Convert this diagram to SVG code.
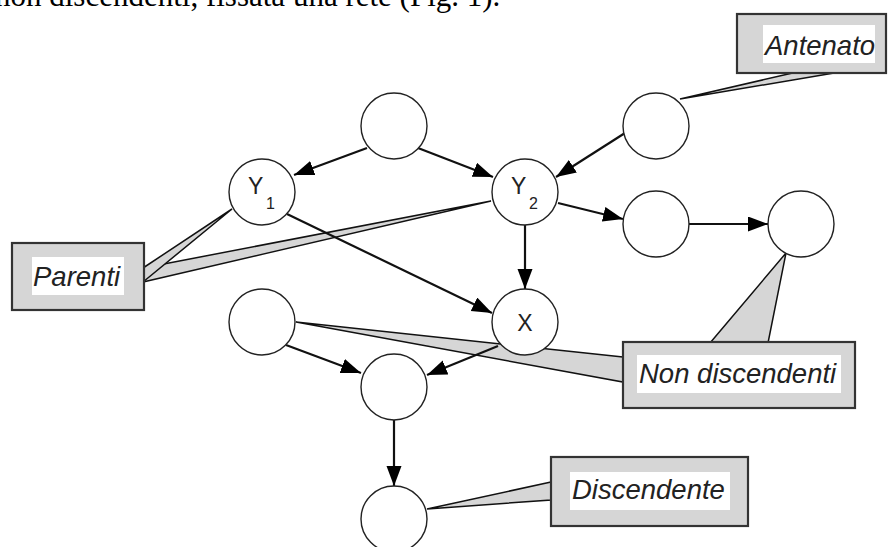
<svg xmlns="http://www.w3.org/2000/svg" width="894" height="547" viewBox="0 0 894 547">
<defs>
<marker id="ah" markerUnits="userSpaceOnUse" markerWidth="22" markerHeight="16" refX="20" refY="7.5" orient="auto">
<path d="M0,0 L20,7.5 L0,15 z" fill="#000"/>
</marker>
</defs>
<style>
.node{fill:#fff;stroke:#222;stroke-width:1.4}
.edge{stroke:#111;stroke-width:2.2;fill:none;marker-end:url(#ah)}
.ptr{fill:#d6d6d6;stroke:#111;stroke-width:1.5;stroke-linejoin:miter}
.box{fill:#d6d6d6;stroke:#333;stroke-width:2.2}
.tbg{fill:#fff}
.ct{font-family:"Liberation Sans",Arial,sans-serif;font-style:italic;font-size:27.5px;fill:#222}
.nl{font-family:"Liberation Sans",Arial,sans-serif;font-size:23px;fill:#222}
.sub{font-family:"Liberation Sans",Arial,sans-serif;font-size:16px;fill:#222}
</style>
<rect width="894" height="547" fill="#fff"/>
<text x="-5" y="6" font-family="Liberation Serif,serif" font-size="31" fill="#000">non discendenti, fissata una rete (Fig. 1).</text>

<g id="callout-parenti">
<polygon class="ptr" points="143,268 491,201 143,282"/>
<polygon class="ptr" points="143,268 232,209 143,282"/>
<rect class="box" x="12" y="243" width="132" height="67"/>
<rect class="tbg" x="32" y="257" width="92" height="38"/>
<text class="ct" x="33" y="286">Parenti</text>
</g>
<g id="callout-nondiscendenti">
<polygon class="ptr" points="623,357 296,322 623,382"/>
<polygon class="ptr" points="710,343 786,253 768,343"/>
<rect class="box" x="623" y="342" width="232" height="66"/>
<rect class="tbg" x="637" y="355" width="204" height="38"/>
<text class="ct" x="639" y="383">Non discendenti</text>
</g>
<g id="callout-antenato">
<polygon class="ptr" points="797,72 680,99 840,72"/>
<rect class="box" x="737" y="14" width="149" height="59"/>
<rect class="tbg" x="763" y="25" width="112" height="38"/>
<text class="ct" x="765" y="55">Antenato</text>
</g>
<g id="callout-discendente">
<polygon class="ptr" points="551,482 427,509 551,500"/>
<rect class="box" x="551" y="457" width="197" height="69"/>
<rect class="tbg" x="570" y="472" width="160" height="38"/>
<text class="ct" x="572" y="499">Discendente</text>
</g>

<g id="connectors">
<line class="edge" x1="367" y1="148" x2="294" y2="175"/>
<line class="edge" x1="418" y1="148" x2="493" y2="177"/>
<line class="edge" x1="625" y1="133" x2="556" y2="177"/>
<line class="edge" x1="558" y1="203" x2="623" y2="219"/>
<line class="edge" x1="689" y1="224" x2="768" y2="224"/>
<line class="edge" x1="525" y1="225" x2="525" y2="289"/>
<line class="edge" x1="287" y1="214" x2="492" y2="313"/>
<line class="edge" x1="286" y1="345" x2="361" y2="373"/>
<line class="edge" x1="498" y1="346" x2="427" y2="375"/>
<line class="edge" x1="394" y1="420" x2="394" y2="486"/>
</g>

<g id="n-top"><circle class="node" cx="394" cy="126" r="33"/></g>
<g id="n-antenato"><circle class="node" cx="656" cy="126" r="33"/></g>
<g id="n-y1"><circle class="node" cx="262" cy="192" r="33"/><text class="nl" x="248" y="194">Y</text><text class="sub" x="266" y="209">1</text></g>
<g id="n-y2"><circle class="node" cx="525" cy="192" r="33"/><text class="nl" x="511" y="194">Y</text><text class="sub" x="529" y="209">2</text></g>
<g id="n-r1"><circle class="node" cx="656" cy="224" r="33"/></g>
<g id="n-r2"><circle class="node" cx="801" cy="224" r="33"/></g>
<g id="n-x"><circle class="node" cx="525" cy="322" r="33"/><text class="nl" x="525" y="331" text-anchor="middle">X</text></g>
<g id="n-left"><circle class="node" cx="262" cy="322" r="33"/></g>
<g id="n-mid"><circle class="node" cx="394" cy="387" r="33"/></g>
<g id="n-bottom"><circle class="node" cx="394" cy="519" r="33"/></g>
</svg>
